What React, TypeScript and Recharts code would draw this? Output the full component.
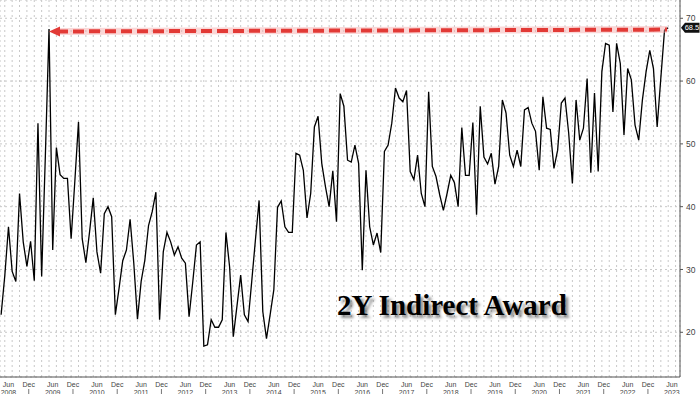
import { LineChart, Line, XAxis, YAxis, CartesianGrid, ReferenceLine } from 'recharts';

// monthly 2Y auction indirect award (%), first point Apr 2008, last May 2023
const startYear = 2008;
const startMonth = 4;

const indirectPct = [
  22.8, 29, 36.8, 29.7, 28.1, 42.1, 34.4, 30.5, 34.5, 28.2, 53.3, 28.9,
  48, 68.3, 33.1, 49.4, 45.1, 44.5, 44.5, 34.9, 44, 53.5, 34.9, 31.1,
  36, 41.4, 32.8, 29.4, 38.9, 40, 38.4, 22.8, 27, 31.4, 33.1, 38.0,
  31, 22.1, 28.1, 31.5, 37, 39.2, 42.3, 22.0, 32.8, 35.9, 34.4, 32.3,
  33.6, 31.8, 31.0, 22.5, 28, 33.9, 34.4, 17.8, 18.0, 22.0, 20.8, 20.8,
  22.0, 35.9, 30.4, 19.3, 24.2, 29.1, 22.8, 21.7, 28.1, 34.7, 41.0, 23.3,
  19.0, 22.8, 26.8, 39.9, 40.9, 36.8, 35.9, 35.9, 48.5, 48.2, 45.8, 38.2,
  42.1, 52.7, 54.4, 46.9, 43.2, 40.0, 45.7, 37.6, 58.0, 56.0, 47.4, 47.1,
  49.8, 46.9, 29.9, 45.8, 36.8, 33.9, 35.8, 32.7, 48.8, 49.8, 53.3, 58.9,
  57.3, 56.7, 58.5, 45.6, 44.3, 48.2, 42.1, 40.0, 58.3, 46.4, 44.8, 41.9,
  39.4, 42.1, 45.0, 43.8, 40.0, 52.6, 45.0, 45.0, 53.4, 38.7, 56.0, 47.9,
  46.8, 48.5, 43.6, 46.4, 57.0, 54.9, 48.2, 46.4, 49.0, 46.4, 55.4, 55.8,
  53.3, 52.0, 45.8, 57.5, 52.5, 52.3, 46.1, 49.0, 56.5, 57.3, 51.7, 43.7,
  57.0, 50.6, 52.5, 60.4, 45.4, 58.1, 45.6, 61.5, 66.0, 65.7, 55.1, 66.0,
  62.8, 51.4, 62.0, 60.2, 53.0, 50.6, 57.0, 61.5, 64.9, 62.0, 52.7, 60.5,
  68.1, 68.5,
];

const tickYears = [2008, 2009, 2010, 2011, 2012, 2013, 2014, 2015, 2016, 2017, 2018, 2019, 2020, 2021, 2022, 2023];
const yTicks = [20, 30, 40, 50, 60, 70];
const lastValue = 68.5;
const title = '2Y Indirect Award';

// record line: 2009 peak -> latest print
const peakIndex = 13;
const recordFrom = 67.9;
const recordTo = 68.2;

const data = indirectPct.map((v, i) => ({ i, v }));

const xDomain = [-0.3, 184.2];
const junOffset = 6 - startMonth;
const xTicks = tickYears.flatMap((y) => {
  const jun = (y - startYear) * 12 + junOffset;
  return y === 2023 ? [jun] : [jun, jun + 5.5];
});
// dotted verticals every other month
const gridMonths = Array.from({ length: 92 }, (_, k) => 1 + k * 2);

const MonthTick = (props: any) => {
  const { x, y, payload } = props;
  const m = payload.value;
  const isJun = Number.isInteger((m - junOffset) / 12);
  const year = startYear + Math.floor((m - junOffset) / 12);
  return (
    <g>
      <text x={x} y={y + 7.5} textAnchor="middle" fontSize={7} fill="#444" fontFamily="Liberation Sans, Arial">
        {isJun ? 'Jun' : 'Dec'}
      </text>
      {isJun ? (
        <text x={x} y={y + 15.5} textAnchor="middle" fontSize={7} fill="#444" fontFamily="Liberation Sans, Arial">
          {year}
        </text>
      ) : (
        <line x1={x} x2={x} y1={y + 10} y2={y + 17} stroke="#777" />
      )}
    </g>
  );
};

const DashedArrow = (p: any) => {
  const { x1, y1, x2, y2 } = p;
  return (
    <g>
      <line x1={x1 + 8} y1={y1} x2={x2} y2={y2} stroke="#f3a6a6" strokeWidth={7} strokeOpacity={0.45} />
      <line x1={x1 + 8} y1={y1} x2={x2} y2={y2} stroke="#e23a36" strokeWidth={4} strokeDasharray="11 5" />
      <polygon points={`${x1},${y1} ${x1 + 11},${y1 - 5} ${x1 + 11},${y1 + 5}`} fill="#e23a36" />
    </g>
  );
};

const LastTag = (props: any) => {
  const { viewBox } = props;
  const x = viewBox.x + viewBox.width + 1;
  const y = viewBox.y;
  return (
    <g>
      <path d={`M${x},${y} L${x + 4},${y - 5} L${x + 18.5},${y - 5} L${x + 18.5},${y + 5} L${x + 4},${y + 5} Z`} fill="#111" />
      <text x={x + 11} y={y + 2.7} textAnchor="middle" fontSize={7.5} fill="#fff" fontFamily="Liberation Sans, Arial">
        {lastValue}
      </text>
    </g>
  );
};

export default function App() {
  return (
    <div style={{ position: 'fixed', left: 0, top: 0, width: 700, height: 394, background: '#fff' }}>
      <LineChart width={700} height={394} data={data} margin={{ top: 0, right: 0, left: 0, bottom: 0 }}>
        <CartesianGrid stroke="#c8c8c8" strokeDasharray="2 3" xAxisId="grid" />
        <XAxis xAxisId="grid" dataKey="i" type="number" domain={xDomain} allowDataOverflow ticks={gridMonths} interval={0} hide />
        <XAxis
          dataKey="i"
          type="number"
          domain={xDomain}
          allowDataOverflow
          ticks={xTicks}
          interval={0}
          height={17}
          tickLine={false}
          tickSize={0}
          axisLine={{ stroke: '#555' }}
          tick={<MonthTick />}
        />
        <YAxis
          orientation="right"
          width={20}
          domain={[12.88, 72.91]}
          allowDataOverflow
          ticks={yTicks}
          interval={0}
          axisLine={{ stroke: '#555' }}
          tickLine={{ stroke: '#555' }}
          tickSize={3}
          tickMargin={3}
          tick={{ fontSize: 8.5, fill: '#444', fontFamily: 'Liberation Sans, Arial' }}
        />
        <Line type="linear" dataKey="v" stroke="#000" strokeWidth={1.3} dot={false} activeDot={false} isAnimationActive={false} />
        <ReferenceLine
          segment={[{ x: peakIndex, y: recordFrom }, { x: indirectPct.length - 1.3, y: recordTo }]}
          shape={<DashedArrow />}
        />
        <ReferenceLine y={lastValue} stroke="none" label={<LastTag />} />
      </LineChart>
      <div
        style={{
          position: 'absolute',
          left: 337,
          top: 291,
          fontFamily: 'Liberation Serif, Times New Roman, serif',
          fontWeight: 'bold',
          fontSize: 29,
          lineHeight: '29px',
          color: '#000',
          whiteSpace: 'nowrap',
          textShadow: '3px 3px 3px rgba(0,0,0,0.45)',
        }}
      >
        {title}
      </div>
    </div>
  );
}
